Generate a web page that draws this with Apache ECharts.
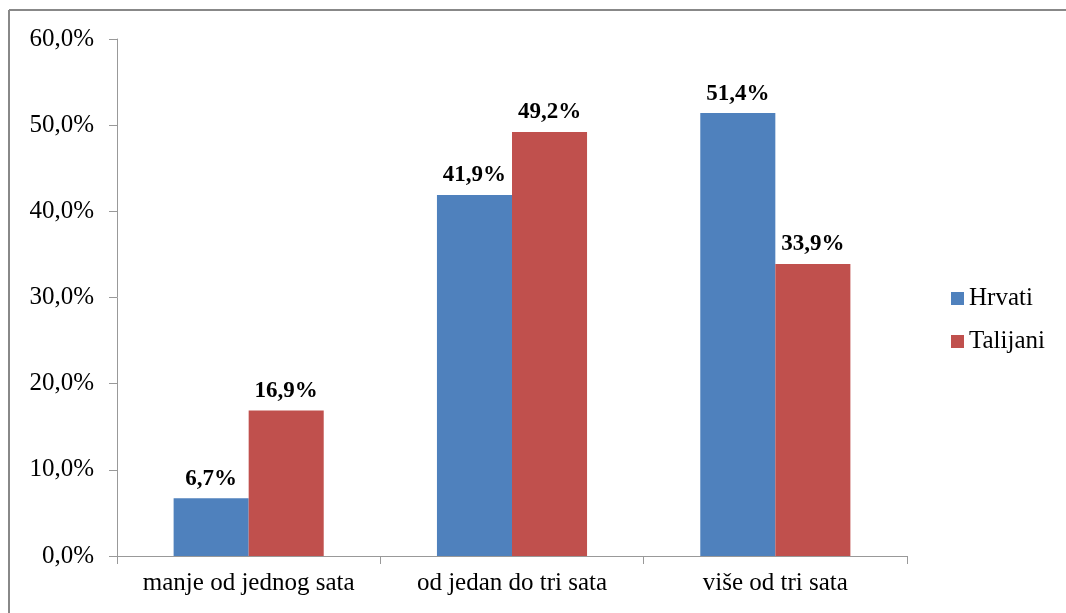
<!DOCTYPE html>
<html><head><meta charset="utf-8">
<script src="https://cdn.jsdelivr.net/npm/echarts@6/dist/echarts.min.js"></script>
<style>html,body{margin:0;padding:0;background:#fff}#c{width:1066px;height:613px}</style>
</head><body><div id="c"></div>
<script>
const categories = ['manje od jednog sata', 'od jedan do tri sata', 'više od tri sata'];
const hrvati = [6.7, 41.9, 51.4];
const talijani = [16.9, 49.2, 33.9];
const seriesNames = ['Hrvati', 'Talijani'];
const fmt = v => v.toFixed(1).replace('.', ',') + '%';
const font = '"Liberation Serif", "Times New Roman", serif';
const chart = echarts.init(document.getElementById('c'));
chart.setOption({
  animation: false,
  textStyle: { fontFamily: font },
  graphic: [
    { type: 'line', shape: { x1: 9, y1: 10, x2: 1066, y2: 10 }, style: { stroke: '#888', lineWidth: 2 } },
    { type: 'line', shape: { x1: 9, y1: 10, x2: 9, y2: 613 }, style: { stroke: '#888', lineWidth: 2 } }
  ],
  grid: { left: 117, right: 159, top: 39, bottom: 57 },
  legend: {
    orient: 'vertical', left: 946, top: 281, itemWidth: 13, itemHeight: 13, itemGap: 18,
    icon: 'rect',
    textStyle: { fontFamily: font, fontSize: 25, color: '#000', padding: [0, 0, 0, 0] },
    data: seriesNames
  },
  xAxis: {
    type: 'category', data: categories,
    axisLine: { lineStyle: { color: '#999', width: 1 } },
    axisTick: { show: true, length: 8, lineStyle: { color: '#999' } },
    axisLabel: { interval: 0, hideOverlap: false, fontFamily: font, fontSize: 25, color: '#000', margin: 15 }
  },
  yAxis: {
    type: 'value', min: 0, max: 60, interval: 10,
    axisLine: { show: true, lineStyle: { color: '#999' } },
    axisTick: { show: true, length: 8, inside: false, lineStyle: { color: '#999' } },
    splitLine: { show: false },
    axisLabel: { fontFamily: font, fontSize: 25, color: '#000', margin: 23, formatter: v => fmt(v) }
  },
  series: [
    { name: seriesNames[0], type: 'bar', data: hrvati, barGap: '0%', barCategoryGap: '43%',
      itemStyle: { color: '#4F81BD' },
      label: { show: true, position: 'top', distance: 8, fontFamily: font, fontWeight: 'bold', fontSize: 23, color: '#000', formatter: p => fmt(p.value) } },
    { name: seriesNames[1], type: 'bar', data: talijani, barGap: '0%', barCategoryGap: '43%',
      itemStyle: { color: '#C0504D' },
      label: { show: true, position: 'top', distance: 8, fontFamily: font, fontWeight: 'bold', fontSize: 23, color: '#000', formatter: p => fmt(p.value) } }
  ]
});
</script></body></html>
